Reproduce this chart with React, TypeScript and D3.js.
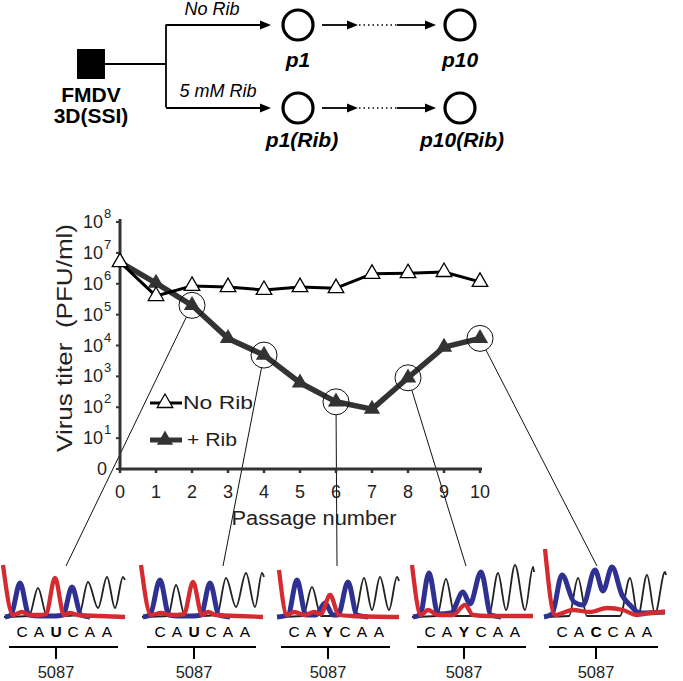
import React from 'react';
import * as d3 from 'd3';

// ---------- Data ----------
const passages = [0, 1, 2, 3, 4, 5, 6, 7, 8, 9, 10];
const noRibTiter = [5.0e6, 4.0e5, 8.5e5, 7.8e5, 6.3e5, 7.8e5, 7.2e5, 2.1e6, 2.2e6, 2.4e6, 1.15e6];
const ribTiter = [5.0e6, 1.05e6, 2.0e5, 1.7e4, 4.9e3, 6.2e2, 1.5e2, 87, 9.0e2, 8.9e3, 1.7e4];
const circledPassages = [2, 4, 6, 8, 10];
const yTickExponents = [0, 1, 2, 3, 4, 5, 6, 7, 8];
const legendLabels = ['No Rib', '+ Rib'];

const panelSequences = ['CAUCAA', 'CAUCAA', 'CAYCAA', 'CAYCAA', 'CACCAA'];
const variantIndex = 2;
const positionLabel = '5087';

// chromatogram traces: [scan position, signal]
const black1 = [[4, 0], [29, 1], [38, 29], [47, 1], [62, 1], [79, 2], [88, 35], [98, 9], [107, 40], [115, 9], [123, 40], [125, 37]];
const blue1 = [[5, 0], [11, 2], [20, 34], [29, 2], [40, 1], [55, 1], [63, 2], [72, 30], [81, 2], [90, 0]];
const red1 = [[3, 52], [13, 2], [22, 5], [30, 2], [40, 2], [46, 3], [55, 39], [64, 2], [70, 4], [78, 2], [100, 1], [125, 0]];

const black2 = [[4, 0], [30, 1], [38, 32], [47, 1], [62, 1], [79, 2], [88, 39], [98, 10], [108, 44], [117, 10], [124, 44], [126, 40]];
const blue2 = [[5, 0], [12, 2], [22, 37], [31, 2], [40, 1], [55, 1], [63, 2], [72, 34], [81, 2], [92, 0]];
const red2 = [[3, 52], [13, 2], [23, 4], [33, 2], [46, 3], [55, 35], [64, 2], [70, 5], [78, 2], [100, 1], [125, 0]];

const black3 = [[6, 0], [31, 1], [40, 30], [49, 1], [60, 1], [83, 2], [92, 39], [100, 7], [108, 40], [117, 7], [125, 40], [127, 36]];
const blue3 = [[5, 0], [16, 2], [25, 37], [34, 2], [44, 2], [53, 14], [61, 2], [66, 2], [76, 35], [85, 2], [96, 0]];
const red3 = [[7, 47], [15, 2], [22, 5], [33, 2], [42, 5], [49, 3], [58, 22], [67, 2], [80, 1], [127, 0]];

const black4 = [[4, 0], [29, 1], [38, 38], [47, 1], [60, 1], [81, 2], [90, 44], [98, 7], [107, 52], [117, 7], [125, 50], [126, 45]];
const blue4 = [[5, 0], [12, 2], [21, 44], [30, 3], [43, 4], [55, 25], [62, 13], [73, 45], [83, 2], [93, 0]];
const red4 = [[4, 52], [13, 2], [20, 7], [30, 2], [45, 2], [57, 12], [65, 2], [80, 1], [125, 1]];

const black5 = [[4, 0], [29, 1], [38, 39], [47, 1], [80, 1], [90, 39], [98, 1], [107, 42], [115, 3], [125, 45], [126, 42]];
const blue5 = [[4, 0], [12, 3], [22, 42], [34, 15], [43, 12], [55, 47], [63, 26], [72, 50], [82, 22], [90, 12], [100, 4], [125, 5]];
const red5 = [[5, 68], [15, 2], [33, 7], [50, 5], [67, 9], [83, 7], [97, 2], [110, 4], [125, 5]];

const blackTraces = [black1, black2, black3, black4, black5];
const blueTraces = [blue1, blue2, blue3, blue4, blue5];
const redTraces = [red1, red2, red3, red4, red5];

// ---------- Layout ----------
const W = 683;
const H = 681;
const FONT = "'Liberation Sans', Arial, Helvetica, sans-serif";
const panelLeft = [0, 138, 272, 408, 540];
const panelAnchor = [66, 85, 65, 58, 57];
const RED = '#d42a30';
const BLUE = '#2e3192';
const DARK = '#333';

const x = d3.scaleLinear().domain([0, 10]).range([120, 480]);
const y = d3.scaleLog().domain([1, 1e8]).range([469, 222]);

const lineGen = d3
  .line<number>()
  .x((_, i) => x(passages[i]))
  .y((d) => y(d));

const triUp = d3.symbol(d3.symbolTriangle, 105)();
const triUpFilled = d3.symbol(d3.symbolTriangle, 115)();

function Arrow({ x1, x2, yy }: { x1: number; x2: number; yy: number }) {
  return (
    <g>
      <line x1={x1} x2={x2 - 8} y1={yy} y2={yy} stroke="#000" strokeWidth={1.8} />
      <path d={`M${x2},${yy} L${x2 - 11},${yy - 4.5} L${x2 - 11},${yy + 4.5} Z`} fill="#000" />
    </g>
  );
}

function Panel({ idx }: { idx: number }) {
  const x0 = panelLeft[idx];
  const px = d3.scaleLinear().domain([0, 130]).range([x0, x0 + 130]);
  const py = d3.scaleLinear().domain([0, 70]).range([617, 547]);
  const trace = d3
    .line<number[]>()
    .x((d) => px(d[0]))
    .y((d) => py(d[1]))
    .curve(d3.curveMonotoneX);
  const letters = panelSequences[idx].split('');
  const lx = d3.scalePoint<number>().domain(letters.map((_, i) => i)).range([x0 + 22, x0 + 107]);
  const tickX = lx(variantIndex) as number;
  return (
    <g>
      <path d={trace(blackTraces[idx]) || ''} fill="none" stroke="#222" strokeWidth={1.8} />
      <path d={trace(blueTraces[idx]) || ''} fill="none" stroke={BLUE} strokeWidth={5} strokeLinejoin="round" />
      <path d={trace(redTraces[idx]) || ''} fill="none" stroke={RED} strokeWidth={4.3} strokeLinejoin="round" />
      {letters.map((c, i) => (
        <text
          key={i}
          x={lx(i)}
          y={637}
          textAnchor="middle"
          fontSize={15.5}
          fontWeight={i === variantIndex ? 'bold' : 'normal'}
          fontFamily={FONT}
          fill="#000"
        >
          {c}
        </text>
      ))}
      <line x1={x0 + 9} x2={x0 + 118} y1={647} y2={647} stroke="#000" strokeWidth={2} />
      <line x1={tickX} x2={tickX} y1={647} y2={659} stroke="#000" strokeWidth={2} />
      <text x={tickX} y={678} textAnchor="middle" fontSize={16.5} fontFamily={FONT} fill="#222">
        {positionLabel}
      </text>
    </g>
  );
}

export default function App() {
  const circleR = 13;
  return (
    <svg
      width={W}
      height={H}
      viewBox={`0 0 ${W} ${H}`}
      style={{ position: 'absolute', left: 0, top: 0, background: '#fff' }}
      fontFamily={FONT}
    >
      <rect x={0} y={0} width={W} height={H} fill="#fff" />

      {/* ---------- Top scheme ---------- */}
      <rect x={77} y={49} width={28} height={30} fill="#000" />
      <line x1={105} x2={166} y1={64} y2={64} stroke="#000" strokeWidth={1.8} />
      <line x1={166} x2={166} y1={24.5} y2={107.5} stroke="#000" strokeWidth={1.8} />
      <Arrow x1={166} x2={271} yy={25} />
      <Arrow x1={166} x2={271} yy={108} />
      <text x={91} y={102} textAnchor="middle" fontSize={21} fontWeight="bold">FMDV</text>
      <text x={91} y={123} textAnchor="middle" fontSize={21} fontWeight="bold">3D(SSI)</text>
      <text x={212} y={15} textAnchor="middle" fontSize={18} fontStyle="italic">No Rib</text>
      <text x={218} y={97} textAnchor="middle" fontSize={18} fontStyle="italic">5 mM Rib</text>
      {[25, 108].map((cy) => (
        <g key={cy}>
          <circle cx={298} cy={cy} r={15} fill="none" stroke="#000" strokeWidth={3.2} />
          <circle cx={460} cy={cy} r={15} fill="none" stroke="#000" strokeWidth={3.2} />
          <Arrow x1={322} x2={358} yy={cy} />
          <line x1={359} x2={397} y1={cy} y2={cy} stroke="#000" strokeWidth={1.6} strokeDasharray="1.5 3" />
          <Arrow x1={397} x2={436} yy={cy} />
        </g>
      ))}
      <text x={298} y={67} textAnchor="middle" fontSize={21} fontWeight="bold" fontStyle="italic">p1</text>
      <text x={460} y={67} textAnchor="middle" fontSize={21} fontWeight="bold" fontStyle="italic">p10</text>
      <text x={302} y={147} textAnchor="middle" fontSize={21} fontWeight="bold" fontStyle="italic">p1(Rib)</text>
      <text x={462} y={147} textAnchor="middle" fontSize={21} fontWeight="bold" fontStyle="italic">p10(Rib)</text>

      {/* ---------- Connectors ---------- */}
      {circledPassages.map((p, i) => {
        const cx = x(p);
        const cy = y(ribTiter[p]);
        const ex = panelLeft[i] + panelAnchor[i];
        const ey = 566;
        const dx = ex - cx;
        const dy = ey - cy;
        const len = Math.sqrt(dx * dx + dy * dy);
        return (
          <line
            key={p}
            x1={cx + (dx / len) * circleR}
            y1={cy + (dy / len) * circleR}
            x2={ex}
            y2={ey}
            stroke="#111"
            strokeWidth={1}
          />
        );
      })}

      {/* ---------- Axes ---------- */}
      <line x1={120} x2={120} y1={219} y2={470.5} stroke={DARK} strokeWidth={3} />
      <line x1={118.5} x2={482} y1={469} y2={469} stroke={DARK} strokeWidth={3} />
      {passages.map((p) => (
        <g key={p}>
          <line x1={x(p)} x2={x(p)} y1={469} y2={473} stroke={DARK} strokeWidth={2.5} />
          <text x={x(p)} y={498} textAnchor="middle" fontSize={18} fill="#222">
            {p}
          </text>
        </g>
      ))}
      {yTickExponents.map((e) => {
        const ty = y(Math.pow(10, e));
        return (
          <g key={e}>
            <line x1={116} x2={120} y1={ty} y2={ty} stroke={DARK} strokeWidth={2} />
            {e === 0 ? (
              <text x={107} y={ty + 6} textAnchor="end" fontSize={18} fill="#222">0</text>
            ) : (
              <g>
                <text x={103} y={ty + 6} textAnchor="end" fontSize={18} fill="#222">10</text>
                <text x={104} y={ty - 4} textAnchor="start" fontSize={13} fill="#222">{e}</text>
              </g>
            )}
          </g>
        );
      })}
      <text x={314} y={525} textAnchor="middle" fontSize={19.5} fill="#222" textLength={165} lengthAdjust="spacingAndGlyphs">
        Passage number
      </text>
      <text
        transform="translate(72,338) rotate(-90)"
        textAnchor="middle"
        fontSize={22}
        fill="#222"
        textLength={228}
        lengthAdjust="spacingAndGlyphs"
      >
        {'Virus titer\u00A0 (PFU/ml)'}
      </text>

      {/* ---------- Series ---------- */}
      <path d={lineGen(ribTiter) || ''} fill="none" stroke={DARK} strokeWidth={5.5} strokeLinejoin="round" />
      {ribTiter.map((v, i) => (
        <path key={i} d={triUpFilled || ''} transform={`translate(${x(passages[i])},${y(v)})`} fill={DARK} />
      ))}
      <path d={lineGen(noRibTiter) || ''} fill="none" stroke="#000" strokeWidth={3} strokeLinejoin="round" />
      {noRibTiter.map((v, i) => (
        <path
          key={i}
          d={triUp || ''}
          transform={`translate(${x(passages[i])},${y(v)})`}
          fill="#fff"
          stroke="#000"
          strokeWidth={1.3}
        />
      ))}
      {circledPassages.map((p) => (
        <circle key={p} cx={x(p)} cy={y(ribTiter[p])} r={circleR} fill="none" stroke="#111" strokeWidth={1} />
      ))}

      {/* ---------- Legend ---------- */}
      <line x1={150} x2={182} y1={403} y2={403} stroke="#000" strokeWidth={3} />
      <path d={triUp || ''} transform="translate(165,403)" fill="#fff" stroke="#000" strokeWidth={1.3} />
      <text x={183} y={409} fontSize={18} fill="#222" textLength={70} lengthAdjust="spacingAndGlyphs">{legendLabels[0]}</text>
      <line x1={150} x2={182} y1={440} y2={440} stroke={DARK} strokeWidth={5} />
      <path d={triUpFilled || ''} transform="translate(165,440)" fill={DARK} />
      <text x={187} y={446} fontSize={18} fill="#222" textLength={50} lengthAdjust="spacingAndGlyphs">{legendLabels[1]}</text>

      {/* ---------- Chromatograms ---------- */}
      {panelLeft.map((_, i) => (
        <Panel key={i} idx={i} />
      ))}
    </svg>
  );
}
